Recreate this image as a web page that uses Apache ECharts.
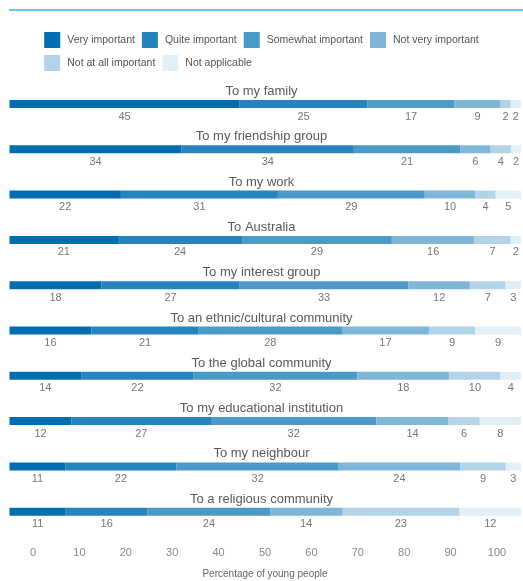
<!DOCTYPE html>
<html>
<head>
<meta charset="utf-8">
<script src="https://cdn.jsdelivr.net/npm/echarts@6/dist/echarts.min.js"></script>
<style>
html,body{margin:0;padding:0;background:#fff;}
#main{width:523px;height:581px;}
</style>
</head>
<body>
<div id="main"></div>
<script>
// data
var levels = ['Very important','Quite important','Somewhat important','Not very important','Not at all important','Not applicable'];
var groups = ['To my family','To my friendship group','To my work','To Australia','To my interest group',
  'To an ethnic/cultural community','To the global community','To my educational institution','To my neighbour','To a religious community'];
var veryImportant     = [45,34,22,21,18,16,14,12,11,11];
var quiteImportant    = [25,34,31,24,27,21,22,27,22,16];
var somewhatImportant = [17,21,29,29,33,28,32,32,32,24];
var notVery           = [9,6,10,16,12,17,18,14,24,14];
var notAtAll          = [2,4,4,7,7,9,10,6,9,23];
var notApplicable     = [2,2,5,2,3,9,4,8,3,12];
var axisTicks = [0,100,10];

var colors = ['#006eb0','#2683bd','#4a99c7','#7fb6d8','#b3d4e8','#e3eff7'];
var cols = [veryImportant,quiteImportant,somewhatImportant,notVery,notAtAll,notApplicable];

var chart = echarts.init(document.getElementById('main'));
var font = 'Liberation Sans';
var grids=[], xAxes=[], yAxes=[], series=[], titles=[];
var row0 = 104, step = 45.3;

for (var i=0;i<groups.length;i++){
  var c = row0 + step*i;
  var total = 0;
  for (var k=0;k<cols.length;k++) total += cols[k][i];
  grids.push({left:9.5, right:2, top:c-4, height:8});
  xAxes.push({type:'value', gridIndex:i, min:0, max:total, show:false});
  yAxes.push({type:'category', gridIndex:i, data:[groups[i]], show:false});
  titles.push({text:groups[i], left:'center', top:c-19, padding:0,
    textStyle:{fontSize:13, fontWeight:'normal', color:'#5a5a5a', fontFamily:font}});
  for (var k=0;k<cols.length;k++){
    series.push({
      name:levels[k], type:'bar', stack:'s'+i, xAxisIndex:i, yAxisIndex:i,
      barWidth:8, data:[cols[k][i]],
      itemStyle:{color:colors[k]},
      label:{show:true, position:'bottom', distance:3, color:'#777', fontSize:11, fontFamily:font},
      silent:true, animation:false
    });
  }
}

// bottom axis with ticks
var ai = groups.length;
grids.push({left:33, right:26, top:540, height:1});
xAxes.push({type:'value', gridIndex:ai, min:axisTicks[0], max:axisTicks[1], interval:axisTicks[2],
  axisLine:{show:false}, axisTick:{show:false}, splitLine:{show:false},
  axisLabel:{color:'#888', fontSize:11, fontFamily:font, margin:6},
  name:'Percentage of young people', nameLocation:'middle', nameGap:28,
  nameTextStyle:{color:'#666', fontSize:10, fontFamily:font}});
yAxes.push({type:'category', gridIndex:ai, data:[''], show:false});

chart.setOption({
  animation:false,
  title:titles,
  legend:{
    data:levels, top:32, left:'center', width:450, padding:0,
    itemWidth:16, itemHeight:16, itemGap:7,
    icon:'rect',
    textStyle:{color:'#555', fontSize:10.5, fontFamily:font, padding:[0,0,0,2]}
  },
  graphic:[{type:'line', shape:{x1:9, y1:10, x2:523, y2:10},
    style:{stroke:'#6cc4ee', lineWidth:2}}],
  grid:grids, xAxis:xAxes, yAxis:yAxes, series:series
});
</script>
</body>
</html>
